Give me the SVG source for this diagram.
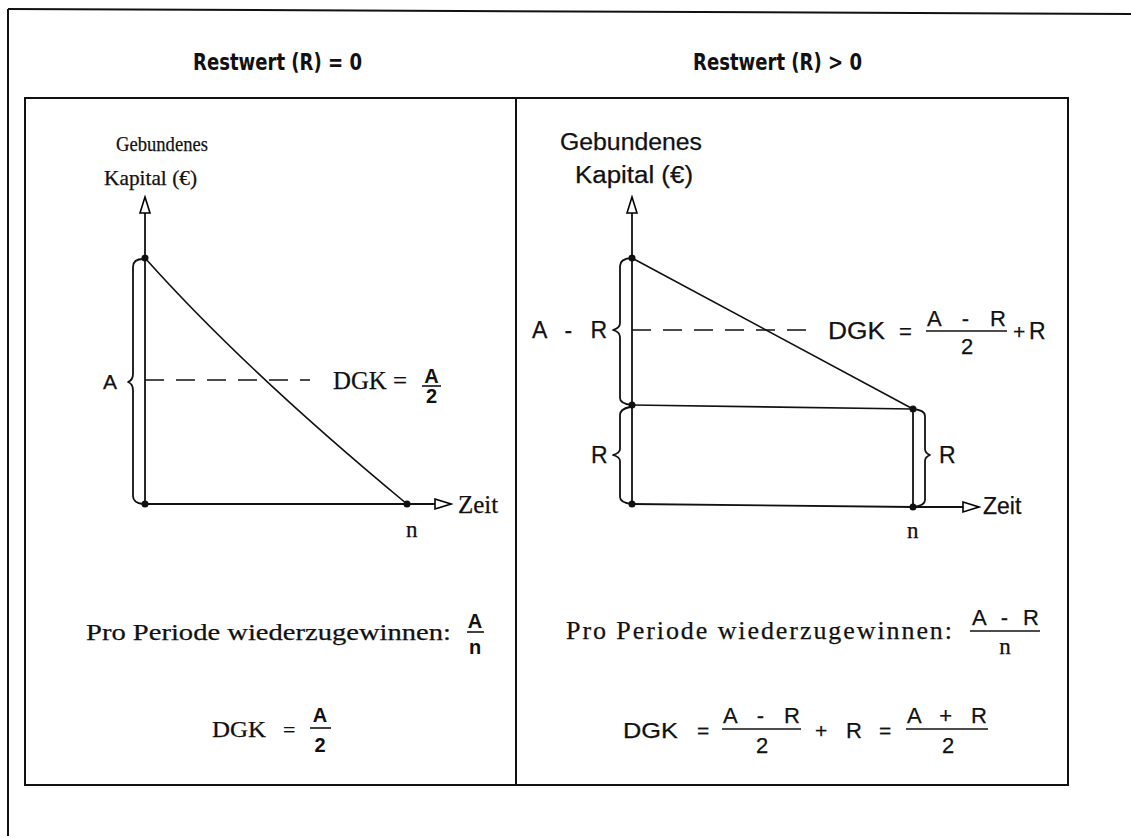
<svg xmlns="http://www.w3.org/2000/svg" width="1131" height="838" viewBox="0 0 1131 838">
<defs>
  <marker id="openArrow" markerUnits="userSpaceOnUse" markerWidth="20" markerHeight="14" viewBox="0 0 20 14" refX="18" refY="7" orient="auto">
    <path d="M2,2 L18,7 L2,12 Z" fill="#fff" stroke="#000" stroke-width="1.6" stroke-linejoin="miter"/>
  </marker>
  <linearGradient id="fade" x1="0" y1="0" x2="1" y2="0">
    <stop offset="0" stop-color="#111"/>
    <stop offset="0.55" stop-color="#333"/>
    <stop offset="1" stop-color="#fff"/>
  </linearGradient>
</defs>
<style>
  .frame { fill: none; stroke: #111; stroke-width: 2; }
  .ln { fill: none; stroke: #111; stroke-width: 1.6; }
  .axis { fill: none; stroke: #111; stroke-width: 1.8; }
  .dash { fill: none; stroke: #111; stroke-width: 1.6; stroke-dasharray: 19 12; }
  .brace { fill: none; stroke: #111; stroke-width: 1.8; stroke-linejoin: round; }
  .dot { fill: #111; }
  .fr { stroke: #111; stroke-width: 1.6; }
  .title { font-family: "DejaVu Sans Condensed", "DejaVu Sans", sans-serif; font-size: 23px; font-weight: bold; fill: #111; }
  .serif { font-family: "Liberation Serif", "Times New Roman", serif; fill: #111; stroke: #111; stroke-width: 0.25; }
  .sans { font-family: "Liberation Sans", Arial, sans-serif; fill: #111; stroke: #111; stroke-width: 0.25; }
  .num { font-family: "Liberation Sans", Arial, sans-serif; font-weight: bold; fill: #111; }
</style>

<g id="frame">
  <path class="frame" d="M8,9 L1131,14"/>
  <path class="frame" d="M8,9 L8,836"/>
  <path d="M8,836 L420,836" stroke="url(#fade)" stroke-width="2.2" fill="none"/>
  <rect class="frame" x="25" y="98" width="1043" height="687"/>
  <path class="frame" d="M516,98 L516,785"/>
</g>

<g id="title-left">
  <text class="title" x="193" y="70" textLength="169" lengthAdjust="spacingAndGlyphs">Restwert (R) = 0</text>
</g>
<g id="title-right">
  <text class="title" x="693" y="70" textLength="169" lengthAdjust="spacingAndGlyphs">Restwert (R) &gt; 0</text>
</g>

<g id="connectors">
  <path class="axis" d="M145,504 L145,197" marker-end="url(#openArrow)"/>
  <path class="axis" d="M145,504 L451,504" marker-end="url(#openArrow)"/>
  <path class="ln" d="M145,258 Q245,370 407,504"/>
  <path class="dash" d="M145,380 L310,380"/>
  <path class="axis" d="M632,504 L632,197" marker-end="url(#openArrow)"/>
  <path class="axis" d="M632,504 L913,507 L979,507" marker-end="url(#openArrow)"/>
  <path class="ln" d="M632,258 L913,409"/>
  <path class="ln" d="M632,405 L913,409"/>
  <path class="axis" d="M913,409 L913,507"/>
  <path class="dash" d="M632,330 L818,330"/>
</g>

<g id="left-chart">
  <text class="serif" x="116" y="151" font-size="22" textLength="92" lengthAdjust="spacingAndGlyphs">Gebundenes</text>
  <text class="serif" x="104" y="185" font-size="21" textLength="93" lengthAdjust="spacingAndGlyphs">Kapital (€)</text>
  <path class="brace" d="M143,259 Q133,259 133,267 L133,374 Q133,380 128,382 Q133,384 133,390 L133,496 Q133,503 143,504"/>
  <text class="sans" x="103" y="389" font-size="21">A</text>
  <circle class="dot" cx="145" cy="258" r="3.5"/>
  <circle class="dot" cx="145" cy="504" r="3.5"/>
  <circle class="dot" cx="407" cy="504" r="3.5"/>
  <text class="serif" x="458" y="513" font-size="25">Zeit</text>
  <text class="serif" x="406" y="537" font-size="23">n</text>
  <text class="serif" x="333" y="389" font-size="25" textLength="74" lengthAdjust="spacingAndGlyphs">DGK =</text>
  <text class="num" x="431.5" y="383" font-size="20" text-anchor="middle">A</text>
  <line class="fr" x1="422" y1="386" x2="441" y2="386"/>
  <text class="num" x="431.5" y="403" font-size="20" text-anchor="middle">2</text>
</g>

<g id="right-chart">
  <text class="sans" x="560" y="150" font-size="23" textLength="142" lengthAdjust="spacingAndGlyphs">Gebundenes</text>
  <text class="sans" x="575" y="183" font-size="23" textLength="118" lengthAdjust="spacingAndGlyphs">Kapital (€)</text>
  <path class="brace" d="M631,258 Q620,259 620,266 L620,323 Q620,328 613,330 Q620,332 620,337 L620,398 Q620,404 632,405"/>
  <path class="brace" d="M630,407 Q620,409 620,415 L620,449 Q620,453 613,455 Q620,457 620,461 L620,497 Q620,503 632,504"/>
  <path class="brace" d="M913,409 Q925,410 925,416 L925,449 Q925,453 930,455 Q925,457 925,461 L925,500 Q925,506 913,507"/>
  <text class="sans" x="532" y="338" font-size="23" textLength="75" lengthAdjust="spacing">A - R</text>
  <text class="sans" x="591" y="463" font-size="23">R</text>
  <text class="sans" x="939" y="463" font-size="23">R</text>
  <circle class="dot" cx="632" cy="258" r="3.5"/>
  <circle class="dot" cx="632" cy="405" r="3.5"/>
  <circle class="dot" cx="632" cy="504" r="3.5"/>
  <circle class="dot" cx="913" cy="409" r="3.5"/>
  <circle class="dot" cx="913" cy="507" r="3.5"/>
  <text class="sans" x="983" y="514" font-size="23">Zeit</text>
  <text class="serif" x="907" y="538" font-size="23">n</text>
  <text class="sans" x="828" y="339" font-size="23" textLength="57" lengthAdjust="spacingAndGlyphs">DGK</text>
  <text class="sans" x="899" y="339" font-size="22">=</text>
  <text class="sans" x="927" y="326" font-size="22" textLength="79" lengthAdjust="spacing">A - R</text>
  <line class="fr" x1="926" y1="331" x2="1007" y2="331"/>
  <text class="sans" x="967" y="354" font-size="22" text-anchor="middle">2</text>
  <text class="sans" x="1013" y="339" font-size="21">+</text>
  <text class="sans" x="1029" y="339" font-size="23">R</text>
</g>

<g id="left-summary">
  <text class="serif" x="86" y="640" font-size="24" textLength="365" lengthAdjust="spacingAndGlyphs">Pro Periode wiederzugewinnen:</text>
  <text class="num" x="475" y="628" font-size="20" text-anchor="middle">A</text>
  <line class="fr" x1="467" y1="632" x2="484" y2="632"/>
  <text class="num" x="475" y="654" font-size="20" text-anchor="middle">n</text>
  <text class="serif" x="212" y="737" font-size="24" textLength="54" lengthAdjust="spacingAndGlyphs">DGK</text>
  <text class="serif" x="283" y="737" font-size="22">=</text>
  <text class="num" x="320" y="722" font-size="20" text-anchor="middle">A</text>
  <line class="fr" x1="310" y1="728" x2="331" y2="728"/>
  <text class="num" x="320" y="752" font-size="20" text-anchor="middle">2</text>
</g>

<g id="right-summary">
  <text class="serif" x="566" y="639" font-size="26" textLength="386" lengthAdjust="spacing">Pro Periode wiederzugewinnen:</text>
  <text class="sans" x="972" y="625" font-size="22" textLength="67" lengthAdjust="spacing">A - R</text>
  <line class="fr" x1="970" y1="631" x2="1040" y2="631"/>
  <text class="serif" x="1005" y="654" font-size="23" text-anchor="middle">n</text>
  <text class="sans" x="623" y="738" font-size="22" textLength="55" lengthAdjust="spacingAndGlyphs">DGK</text>
  <text class="sans" x="697" y="738" font-size="21">=</text>
  <text class="sans" x="723" y="723" font-size="22" textLength="77" lengthAdjust="spacing">A - R</text>
  <line class="fr" x1="722" y1="729" x2="801" y2="729"/>
  <text class="sans" x="762" y="753" font-size="22" text-anchor="middle">2</text>
  <text class="sans" x="815" y="738" font-size="21">+</text>
  <text class="sans" x="846" y="738" font-size="22">R</text>
  <text class="sans" x="879" y="738" font-size="21">=</text>
  <text class="sans" x="907" y="723" font-size="22" textLength="80" lengthAdjust="spacing">A + R</text>
  <line class="fr" x1="906" y1="729" x2="988" y2="729"/>
  <text class="sans" x="948" y="753" font-size="22" text-anchor="middle">2</text>
</g>
</svg>
